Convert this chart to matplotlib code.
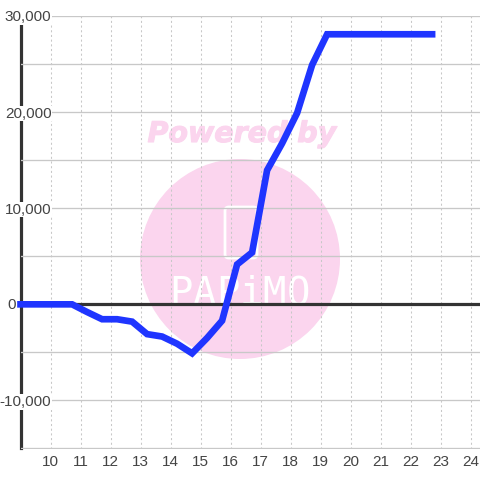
import matplotlib
matplotlib.use('Agg')
import matplotlib.pyplot as plt
import matplotlib.patheffects as pe
from matplotlib.patches import Circle, FancyBboxPatch

# hour axis and balance
xs = [9.0, 9.72, 10.22, 10.72, 11.22, 11.72, 12.22, 12.72, 13.22, 13.72, 14.22, 14.72,
      15.22, 15.72, 16.22, 16.72, 17.22, 17.72, 18.22, 18.72, 19.22, 22.72]
vals = [0, 0, 0, 0, -800, -1550, -1550, -1800, -3100, -3350, -4100, -5100,
        -3500, -1700, 4150, 5400, 13950, 16750, 19900, 24900, 28100, 28100]
xticks = list(range(10, 25))
yticks = [-10000, 0, 10000, 20000, 30000]
yminor = [-15000, -5000, 5000, 15000, 25000]
logo_letters = ['P', 'A', 'P', 'i', 'M', 'O']
logo_x = [180.5, 204, 227.5, 251, 274.5, 298]

PX = 480.0
plt.rcParams['font.family'] = ['Liberation Sans', 'DejaVu Sans']

fig = plt.figure(figsize=(4.8, 4.8), dpi=100)
ax = fig.add_axes([20.5 / PX, 1 - 448.5 / PX, (PX - 20.5) / PX, 432.5 / PX])
ax.set_xlim(9, 9 + (PX - 20.5) / 30)
ax.set_ylim(-15000, 30000)

for s in ['top', 'right', 'bottom']:
    ax.spines[s].set_visible(False)
ax.spines['left'].set_linewidth(2.3)
ax.spines['left'].set_color('#333333')
ax.set_axisbelow(False)

ax.set_xticks(xticks)
ax.set_yticks(yticks)
ax.set_yticks(yminor, minor=True)
# the zero label sits left of the axis, so it gets its own text below
ax.set_yticklabels(['' if v == 0 else '{:,}'.format(v) for v in yticks])
ax.tick_params(axis='both', which='both', length=0)
ax.tick_params(axis='y', pad=-22.3, labelsize=11, labelcolor='#444444')
ax.tick_params(axis='x', pad=5, labelsize=11, labelcolor='#444444')
for lab in ax.get_yticklabels():
    lab.set_bbox(dict(facecolor='white', edgecolor='none', pad=0.5))

ax.grid(axis='y', which='both', color='#c8c8c8', linewidth=0.95)
ax.grid(axis='x', color='#c8c8c8', linewidth=0.75, linestyle=(0, (2, 2.5)))

# watermark
tf = fig.transFigure
ax.add_patch(Circle((240 / PX, 1 - 259 / PX), 100 / PX, transform=tf,
                    facecolor='#fbd5ee', edgecolor='none', zorder=1))
ax.add_patch(FancyBboxPatch((225 / PX, 1 - 258 / PX), 32 / PX, 51 / PX,
                            boxstyle='round,pad=0,rounding_size=0.008', transform=tf,
                            facecolor='none', edgecolor='white', linewidth=2, zorder=1.2))
ax.text(242 / PX, 1 - 134 / PX, 'Powered by', transform=tf, family='DejaVu Sans',
        fontsize=20.5, weight='bold', style='italic', color='#fbd5ee',
        ha='center', va='center', zorder=1.1,
        path_effects=[pe.withStroke(linewidth=0.8, foreground='#fbd5ee')])
for ch, lx in zip(logo_letters, logo_x):
    ax.text(lx / PX, 1 - 305 / PX, ch, transform=tf, family='DejaVu Sans Mono',
            fontsize=28, color='white', ha='center', va='baseline', zorder=1.2)

ax.text(12 / PX, 1 - 305 / PX, '0', transform=tf, fontsize=11, color='#444444',
        ha='center', va='center')

ax.axhline(0, color='#333333', linewidth=2.3, zorder=2.6)
ax.plot(xs, vals, color='#1f35ff', linewidth=4.8, solid_capstyle='projecting',
        solid_joinstyle='miter', clip_on=False, zorder=3)

fig.savefig('out.png', dpi=100)
